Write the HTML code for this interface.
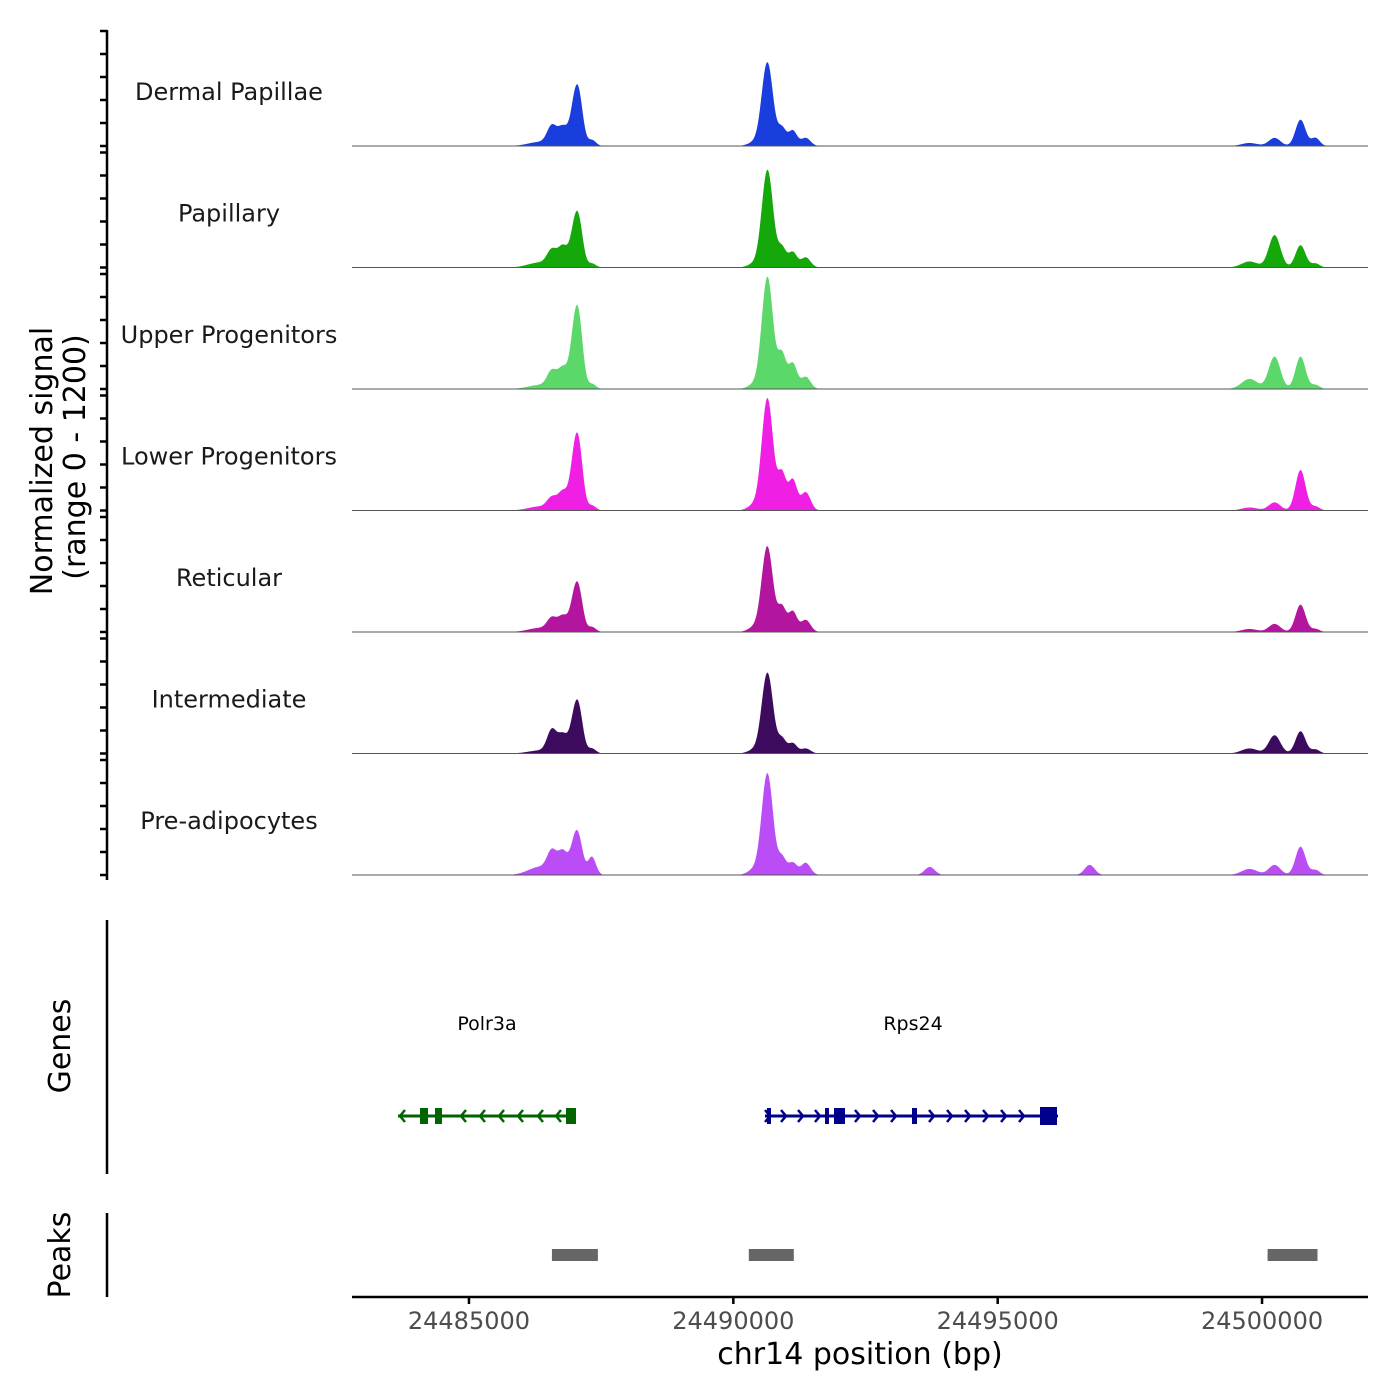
<!DOCTYPE html>
<html><head><meta charset="utf-8"><style>
body{margin:0;background:#fff}
svg{display:block;font-family:"DejaVu Sans","Liberation Sans",sans-serif}
</style></head><body>
<svg id="c" width="1400" height="1400" viewBox="0 0 1400 1400" xmlns="http://www.w3.org/2000/svg">
<g id="tracks"></g>
<g id="yaxis"></g>
<text transform="translate(52,461) rotate(-90)" text-anchor="middle" font-size="30" fill="#000">Normalized signal</text>
<text transform="translate(85,457) rotate(-90)" text-anchor="middle" font-size="30" fill="#000">(range 0 - 1200)</text>
<line x1="107" y1="920" x2="107" y2="1174" stroke="#000" stroke-width="2.5"/>
<text transform="translate(70,1046) rotate(-90)" text-anchor="middle" font-size="30">Genes</text>
<line x1="107" y1="1213" x2="107" y2="1297" stroke="#000" stroke-width="2.5"/>
<text transform="translate(70,1255) rotate(-90)" text-anchor="middle" font-size="30">Peaks</text>
<g id="genes"></g>
<g id="peaks"></g>
<g id="xaxis"></g>
<text x="860" y="1364" text-anchor="middle" font-size="30">chr14 position (bp)</text>
</svg>
<script>
const trackNames=["Dermal Papillae","Papillary","Upper Progenitors","Lower Progenitors","Reticular","Intermediate","Pre-adipocytes"];
const trackColors=["#1a3ddd","#14a80a","#5cd86a","#f01fe4","#b3159f","#3c0b5e","#bb4df6"];
const peakCenters=[24486342,24486569,24486777,24487004,24487098,24487325,24490406,24490614,24490709,24490917,24491125,24491370,24493715,24496739,24499764,24500237,24500728,24501011];
const peakWidths=[220,90,90,85,76,76,120,95,85,80,80,90,95,95,150,110,95,80];
const sigDP=[40,180,180,420,300,60,40,630,300,180,150,80,0,0,30,80,260,80];
const sigPap=[50,150,200,390,270,40,40,720,370,200,150,100,0,0,60,320,220,40];
const sigUp=[40,160,200,580,400,50,50,830,420,350,250,120,0,0,100,320,320,40];
const sigLow=[40,110,180,540,370,50,60,830,420,370,300,180,0,0,30,80,400,40];
const sigRet=[40,120,150,350,240,50,50,650,300,250,200,120,0,0,30,80,270,30];
const sigInt=[30,220,180,370,260,50,40,600,300,150,100,50,0,0,50,180,220,40];
const sigPre=[80,200,220,320,200,180,60,760,370,180,120,120,80,100,60,100,280,50];
const signals=[sigDP,sigPap,sigUp,sigLow,sigRet,sigInt,sigPre];
const xTicks=[24485000,24490000,24495000,24500000];
const peakRegions=[[24486569,24487439],[24490293,24491144],[24500105,24501049]];
const NS="http://www.w3.org/2000/svg";
const bpStart=24482788,bpEnd=24502004,X0=352,X1=1368;
const xs=bp=>X0+(bp-bpStart)/(bpEnd-bpStart)*(X1-X0);
const trackH=121.5,base0=146,yMax=1200;
const ys=(v,i)=>base0+i*trackH-v/yMax*trackH;
function mk(tag,attrs,parent){const e=document.createElementNS(NS,tag);for(const k in attrs)e.setAttribute(k,attrs[k]);parent.appendChild(e);return e;}
const T=document.getElementById('tracks'),Y=document.getElementById('yaxis');
signals.forEach((s,i)=>{
  let d="M"+X0+","+ys(0,i);
  for(let x=X0;x<=X1;x+=1){
    const bp=bpStart+(x-X0)/(X1-X0)*(bpEnd-bpStart);
    let v=0;
    for(let k=0;k<peakCenters.length;k++){const z=(bp-peakCenters[k])/peakWidths[k];v+=s[k]*Math.exp(-0.5*z*z);}
    d+=" L"+x+","+ys(Math.min(v,yMax),i).toFixed(2);
  }
  d+=" L"+X1+","+ys(0,i)+" Z";
  const p=mk('path',{d:d,fill:trackColors[i]},T);
  
  
  const bl=mk('line',{x1:X0,x2:X1,y1:ys(0,i),y2:ys(0,i),stroke:'#555','stroke-width':1},T);
  
  
  const t=mk('text',{x:229,y:ys(0,i)-46,'text-anchor':'middle','font-size':24,fill:'#1a1a1a'},T);
  t.textContent=trackNames[i];
  
  
  for(let j=0;j<=5;j++){
    const yy=ys(0,i)-j*23;
    const tk=mk('line',{x1:100,x2:107,y1:yy,y2:yy,stroke:'#000','stroke-width':2.5},Y);
    
    
  }
});
const ya=mk('line',{x1:107,x2:107,y1:30,y2:880,stroke:'#000','stroke-width':2.5},Y);


const G=document.getElementById('genes');
function chev(x,y,dir,col){const p=mk('path',{d:`M${x+dir*5},${y-6} L${x},${y} L${x+dir*5},${y+6}`,fill:'none',stroke:col,'stroke-width':2.5},G);}
function box(x1,x2,h,col){const r=mk('rect',{x:x1,y:1116-h/2,width:x2-x1,height:h,fill:col},G);}
let c1="#006400";
mk('line',{x1:398,x2:576,y1:1116,y2:1116,stroke:c1,'stroke-width':3,},G);
[400,421,461,480,499,518,538,556].forEach(x=>chev(x,1116,1,c1));
box(420,428,16,c1);box(435,442,16,c1);box(566,576,16,c1);
let c2="#00008b";
mk('line',{x1:765,x2:1058,y1:1116,y2:1116,stroke:c2,'stroke-width':3,},G);
[770,786,803,820,860,878,896,934,952,970,988,1006,1024,1056].forEach(x=>chev(x,1116,-1,c2));
box(767,771,16,c2);box(825,829,16,c2);box(834,845,16,c2);box(912,917,16,c2);box(1040,1057,18,c2);
const g1=mk('text',{x:487,y:1030,'text-anchor':'middle','font-size':19},G);g1.textContent="Polr3a";

const g2=mk('text',{x:913,y:1030,'text-anchor':'middle','font-size':19},G);g2.textContent="Rps24";

const P=document.getElementById('peaks');
peakRegions.forEach(r=>{const e=mk('rect',{x:xs(r[0]),y:1249,width:xs(r[1])-xs(r[0]),height:12,fill:'#666'},P);

});
const XA=document.getElementById('xaxis');
mk('line',{x1:X0,x2:X1,y1:1297,y2:1297,stroke:'#000','stroke-width':2.5,},XA);
xTicks.forEach(v=>{const x=xs(v);
const tk=mk('line',{x1:x,x2:x,y1:1297,y2:1304,stroke:'#000','stroke-width':2.5},XA);

const t=mk('text',{x:x,y:1329,'text-anchor':'middle','font-size':24,fill:'#4d4d4d'},XA);t.textContent=v;
});
</script>
</body></html>
